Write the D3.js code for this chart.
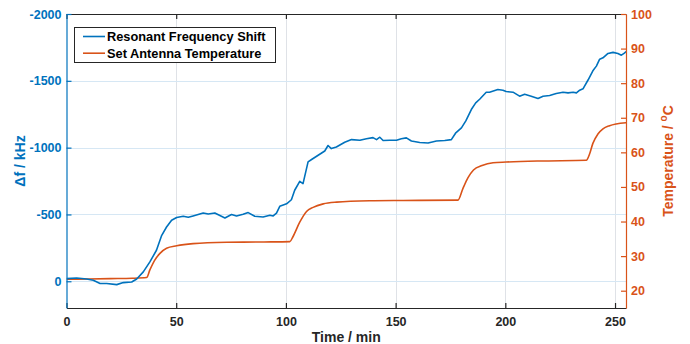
<!DOCTYPE html>
<html>
<head>
<meta charset="utf-8">
<script src="https://cdn.jsdelivr.net/npm/d3@7"></script>
<style>
  html, body { margin: 0; padding: 0; background: #fff; }
  svg { display: block; font-family: 'Liberation Sans', Arial, Helvetica, sans-serif; font-weight: bold; }
</style>
</head>
<body>
<svg id="chart"></svg>
<script>
// time (min) and frequency shift (kHz) of the resonant frequency
const SHIFT_TIME = [
  0, 4.6, 9.2, 12.2, 15.3, 18.3, 22.9, 25.9, 29.7, 32, 35, 38, 41, 43.4, 45.6, 47.9, 50.2, 53.2, 55.5, 57.7,
  62.3, 64.6, 67.6, 72.2, 75.2, 77.5, 80.5, 82.8, 85.8, 89.6, 92.7, 94.2, 95.7, 97.2, 100.3, 102.5, 104, 106.3,
  107.8, 110.1, 111.7, 114.7, 117.7, 119.2, 120.7, 123, 126.8, 129.9, 133.7, 136.7, 139.7, 141.3, 142.8, 144.3,
  147.3, 150.4, 152.6, 154.9, 157.2, 161, 164.8, 168.6, 172.4, 175.4, 177.3, 180, 182, 184.5, 186.5, 188.3,
  191.3, 192.8, 196.6, 198.9, 200.4, 203.5, 206.5, 208.8, 211.8, 214.9, 217.2, 220.2, 223.2, 226.3, 228.6,
  230.9, 232.4, 233.9, 235.4, 237.7, 239.9, 241.5, 243, 244.5, 246.8, 249.1, 251.3, 252.9, 254.1, 255.5,
];
const SHIFT_VALUES = [
  -20, -25, -17, -7, 17, 17, 25, 10, 5, -17, -70, -145, -232, -344, -406, -457, -477, -487, -479, -489,
  -511, -504, -511, -474, -499, -489, -501, -514, -487, -481, -494, -489, -510, -561, -580, -610, -681, -748,
  -731, -893, -911, -943, -975, -1016, -993, -1005, -1040, -1060, -1055, -1067, -1075, -1060, -1078, -1053,
  -1055, -1055, -1067, -1073, -1050, -1038, -1035, -1050, -1053, -1060, -1108, -1148, -1200, -1285, -1335, -1362,
  -1415, -1415, -1435, -1430, -1420, -1415, -1385, -1400, -1385, -1368, -1385, -1390, -1405, -1415, -1410,
  -1415, -1410, -1430, -1440, -1506, -1575, -1610, -1662, -1672, -1705, -1713, -1705, -1692, -1705, -1724,
];

// time (min) and set antenna temperature (°C)
const TEMP_TIME = [
  0, 10, 20, 30, 36.5, 38, 40.3, 42.6, 45.6, 50.2, 57.7, 73, 90, 101.8, 103.2, 106.3, 109.4, 112.4, 117,
  123.1, 138.2, 153.4, 178.4, 180.7, 183, 185.5, 189.4, 194.4, 200.4, 215.6, 236.9, 238.4, 239.9, 242.2,
  244.5, 247.5, 250.5, 255.5,
];
const TEMP_VALUES = [
  23.3, 23.4, 23.5, 23.6, 23.8, 26.0, 28.9, 30.8, 32.3, 33.0, 33.6, 34.0, 34.1, 34.2, 35.6, 39.8, 42.9, 44.1, 45.1,
  45.6, 46.0, 46.1, 46.2, 49.6, 52.7, 54.9, 56.2, 57.0, 57.2, 57.5, 57.7, 59.5, 62.6, 65.3,
  66.8, 67.7, 68.2, 68.6,
];

const TIME_TICKS = [0, 50, 100, 150, 200, 250];
const SHIFT_TICKS = [-2000, -1500, -1000, -500, 0];
const TEMP_TICKS = [20, 30, 40, 50, 60, 70, 80, 90, 100];
const SERIES_NAMES = ['Resonant Frequency Shift', 'Set Antenna Temperature'];

const CANVAS = { WIDTH: 690, HEIGHT: 344 };
const PLOT = { LEFT: 66.5, RIGHT: 626, TOP: 14, BOTTOM: 308 };
const COLORS = { shift: '#0072BD', temp: '#D95319', ink: '#262626' };
const TICK_LEN = 5;

const svg = d3.select('#chart').attr('width', CANVAS.WIDTH).attr('height', CANVAS.HEIGHT);

const x = d3.scaleLinear([0, 255], [PLOT.LEFT, PLOT.RIGHT]);
const yShift = d3.scaleLinear([-2000, 200], [PLOT.TOP, PLOT.BOTTOM]);
const yTemp = d3.scaleLinear([100, 15], [PLOT.TOP, PLOT.BOTTOM]);

// grid
const grid = svg.append('g').attr('class', 'grid');
grid.selectAll('line.vx')
  .data(TIME_TICKS.filter((t) => t > 0))
  .join('line')
  .attr('x1', (d) => Math.round(x(d)) + 0.5)
  .attr('x2', (d) => Math.round(x(d)) + 0.5)
  .attr('y1', PLOT.TOP)
  .attr('y2', PLOT.BOTTOM)
  .attr('stroke', '#dfe2e7')
  .attr('stroke-width', 1);
grid.selectAll('line.hy')
  .data(SHIFT_TICKS.filter((v) => v > -2000))
  .join('line')
  .attr('x1', PLOT.LEFT)
  .attr('x2', PLOT.RIGHT)
  .attr('y1', (d) => Math.round(yShift(d)) + 0.5)
  .attr('y2', (d) => Math.round(yShift(d)) + 0.5)
  .attr('stroke', '#d6e7f4')
  .attr('stroke-width', 1);

// data lines
svg.append('clipPath').attr('id', 'plot-clip')
  .append('rect')
  .attr('x', PLOT.LEFT).attr('y', PLOT.TOP)
  .attr('width', PLOT.RIGHT - PLOT.LEFT).attr('height', PLOT.BOTTOM - PLOT.TOP);

const lines = svg.append('g').attr('clip-path', 'url(#plot-clip)');

const shiftData = d3.zip(SHIFT_TIME, SHIFT_VALUES);
const tempData = d3.zip(TEMP_TIME, TEMP_VALUES);

lines.append('path')
  .datum(tempData)
  .attr('fill', 'none')
  .attr('stroke', COLORS.temp)
  .attr('stroke-width', 1.6)
  .attr('d', d3.line().x((d) => x(d[0])).y((d) => yTemp(d[1])).curve(d3.curveMonotoneX));

lines.append('path')
  .datum(shiftData)
  .attr('fill', 'none')
  .attr('stroke', COLORS.shift)
  .attr('stroke-width', 1.6)
  .attr('stroke-linejoin', 'round')
  .attr('d', d3.line().x((d) => x(d[0])).y((d) => yShift(d[1])));

// axes
const styleAxis = (g, color) => {
  g.selectAll('path.domain').attr('stroke', color).attr('stroke-width', 1.2);
  g.selectAll('.tick line').attr('stroke', color).attr('stroke-width', 1.2);
  g.selectAll('.tick text')
    .attr('fill', color)
    .attr('font-size', '12.5px')
    .attr('font-weight', 'bold')
    .attr('font-family', "'Liberation Sans', Arial, Helvetica, sans-serif");
};

svg.append('g')
  .attr('transform', `translate(0, ${PLOT.BOTTOM})`)
  .call(d3.axisBottom(x).tickValues(TIME_TICKS).tickSizeInner(-TICK_LEN).tickSizeOuter(0).tickPadding(9))
  .call((g) => styleAxis(g, COLORS.ink));

svg.append('g')
  .attr('transform', `translate(0, ${PLOT.TOP})`)
  .call(d3.axisTop(x).tickValues(TIME_TICKS).tickSizeInner(-TICK_LEN).tickSizeOuter(0).tickFormat(''))
  .call((g) => styleAxis(g, COLORS.ink));

svg.append('g')
  .attr('transform', `translate(${PLOT.LEFT}, 0)`)
  .call(d3.axisLeft(yShift).tickValues(SHIFT_TICKS).tickSizeInner(-TICK_LEN).tickSizeOuter(0).tickPadding(5).tickFormat((d) => String(d)))
  .call((g) => styleAxis(g, COLORS.shift));

svg.append('g')
  .attr('transform', `translate(${PLOT.RIGHT}, 0)`)
  .call(d3.axisRight(yTemp).tickValues(TEMP_TICKS).tickSizeInner(-TICK_LEN).tickSizeOuter(0).tickPadding(5).tickFormat((d) => String(d)))
  .call((g) => styleAxis(g, COLORS.temp));

// axis titles
svg.append('text')
  .attr('x', (PLOT.LEFT + PLOT.RIGHT) / 2)
  .attr('y', 342)
  .attr('text-anchor', 'middle')
  .attr('font-size', '14px')
  .attr('fill', COLORS.ink)
  .text('Time / min');

svg.append('text')
  .attr('transform', `translate(25, ${(PLOT.TOP + PLOT.BOTTOM) / 2}) rotate(-90)`)
  .attr('text-anchor', 'middle')
  .attr('font-size', '14px')
  .attr('fill', COLORS.shift)
  .text('\u0394f / kHz');

const tempTitle = svg.append('text')
  .attr('transform', `translate(673, ${(PLOT.TOP + PLOT.BOTTOM) / 2}) rotate(-90)`)
  .attr('text-anchor', 'middle')
  .attr('font-size', '14px')
  .attr('fill', COLORS.temp);
tempTitle.append('tspan').text('Temperature / ');
tempTitle.append('tspan').attr('font-size', '10px').attr('dy', '-6').text('o');
tempTitle.append('tspan').attr('dy', '6').text('C');

// legend
const legend = svg.append('g').attr('transform', 'translate(74.5, 27.5)');
legend.append('rect')
  .attr('width', 201)
  .attr('height', 35)
  .attr('fill', '#fff')
  .attr('stroke', COLORS.ink)
  .attr('stroke-width', 1);

const legendRows = legend.selectAll('g.row')
  .data(d3.zip(SERIES_NAMES, [COLORS.shift, COLORS.temp]))
  .join('g')
  .attr('transform', (d, i) => `translate(0, ${9 + i * 16.7})`);
legendRows.append('line')
  .attr('x1', 8.5).attr('x2', 30.5)
  .attr('stroke', (d) => d[1])
  .attr('stroke-width', 1.6);
legendRows.append('text')
  .attr('x', 32.5)
  .attr('dy', '0.35em')
  .attr('font-size', '12.8px')
  .attr('fill', '#000')
  .text((d) => d[0]);
</script>
</body>
</html>
